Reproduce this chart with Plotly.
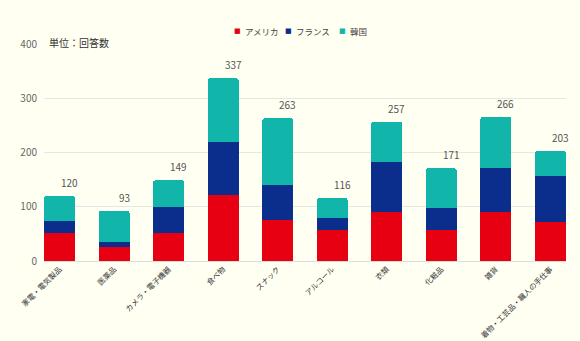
import plotly.graph_objects as go

categories = ["家電・電気製品", "医薬品", "カメラ・電子機器", "食べ物", "スナック",
              "アルコール", "衣類", "化粧品", "雑貨", "着物・工芸品・職人の手仕事"]
usa = [51, 26, 52, 122, 75, 57, 91, 57, 90, 72]
france = [22, 9, 48, 97, 66, 23, 91, 41, 82, 85]
korea = [47, 58, 49, 118, 122, 36, 75, 73, 94, 46]
totals = [120, 93, 149, 337, 263, 116, 257, 171, 266, 203]
series_names = ["アメリカ", "フランス", "韓国"]
colors = ["#e60012", "#0b2d8c", "#12b5aa"]

font = "Noto Sans CJK JP"
L, R = 44, 566
def px(x):
    return (x - L) / (R - L)

fig = go.Figure()
for name, vals, c in zip(series_names, [usa, france, korea], colors):
    fig.add_trace(go.Bar(x=categories, y=vals, name=name, marker_color=c,
                         marker_line_width=0, showlegend=False))

for cat, t in zip(categories, totals):
    fig.add_annotation(x=cat, y=t, text=str(t), showarrow=False, yanchor="bottom",
                       yshift=4, xshift=10, font=dict(size=10, color="#555555", family=font))

fig.add_annotation(xref="paper", yref="paper", x=0.006, y=1.005, text="単位：回答数",
                   showarrow=False, xanchor="left", yanchor="middle",
                   font=dict(size=10, color="#333333", family=font))

# legend built from series names/colors
legend_x = [237, 288, 342]
for name, c, lx in zip(series_names, colors, legend_x):
    fig.add_annotation(xref="paper", yref="paper", x=px(lx), y=(261 - 30.5) / 217, text="■",
                       showarrow=False, xanchor="center", yanchor="middle",
                       font=dict(size=7, color=c, family="DejaVu Sans"))
    fig.add_annotation(xref="paper", yref="paper", x=px(lx + 6), y=(261 - 30.5) / 217, text=name,
                       showarrow=False, xanchor="left", yanchor="middle",
                       font=dict(size=8.5, color="#444444", family=font))

fig.update_layout(
    width=580, height=341,
    barmode="stack", bargap=0.43, barcornerradius=3,
    paper_bgcolor="#fffff2", plot_bgcolor="#fffff2",
    margin=dict(l=L, r=580 - R, t=44, b=80, autoexpand=False),
    font=dict(family=font, size=10, color="#555555"),
    showlegend=False,
)
fig.update_xaxes(range=[-0.285, 9.285], tickangle=-45, tickfont=dict(size=7.5, color="#333333"),
                 showline=True, linecolor="#dddddd", ticks="", automargin=False)
fig.update_yaxes(range=[0, 400], dtick=100, gridcolor="#e6e6e6", zeroline=False,
                 tickfont=dict(size=10, color="#666666"), ticks="", ticklabelstandoff=6,
                 automargin=False)

fig.write_html("out.html")
